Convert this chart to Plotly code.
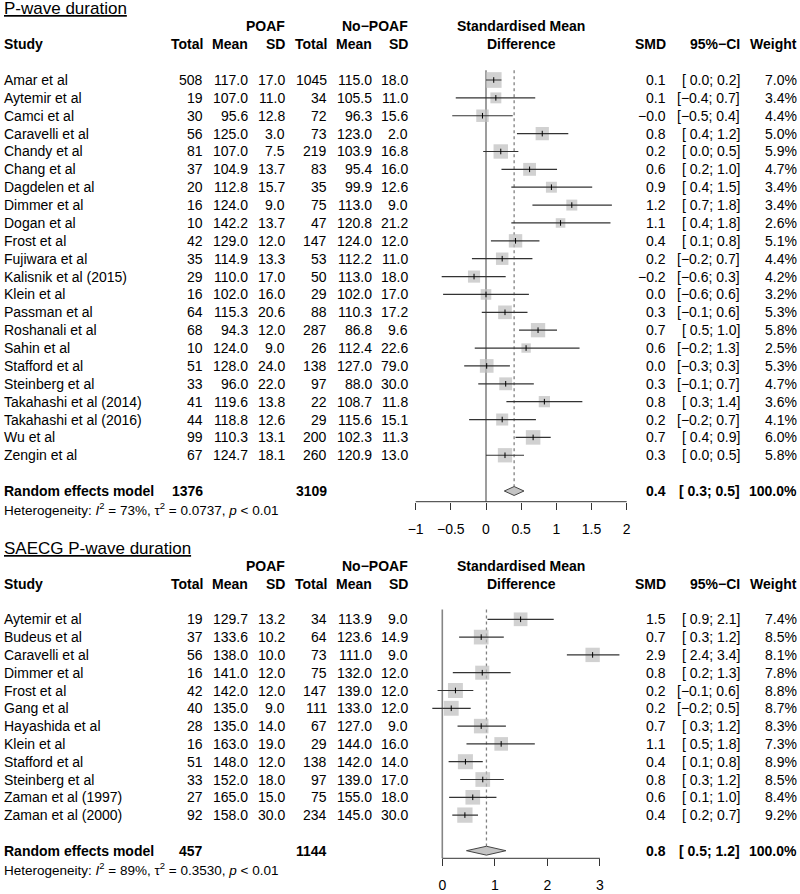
import math
import plotly.graph_objects as go

W, H = 800, 894
FONT = "Liberation Sans, Arial, Helvetica, sans-serif"
FS = 14
FS_HET = 13.5
FS_TITLE = 17

# ---------------- Panel 1: P-wave duration ----------------
p1_title = "P-wave duration"
p1_studies = ["Amar et al", "Aytemir et al", "Camci et al", "Caravelli et al", "Chandy et al",
              "Chang et al", "Dagdelen et al", "Dimmer et al", "Dogan et al", "Frost et al",
              "Fujiwara et al", "Kalisnik et al (2015)", "Klein et al", "Passman et al",
              "Roshanali et al", "Sahin et al", "Stafford et al", "Steinberg et al",
              "Takahashi et al (2014)", "Takahashi et al (2016)", "Wu et al", "Zengin et al"]
p1_e_total = [508, 19, 30, 56, 81, 37, 20, 16, 10, 42, 35, 29, 16, 64, 68, 10, 51, 33, 41, 44, 99, 67]
p1_e_mean = [117.0, 107.0, 95.6, 125.0, 107.0, 104.9, 112.8, 124.0, 142.2, 129.0, 114.9, 110.0,
             102.0, 115.3, 94.3, 124.0, 128.0, 96.0, 119.6, 118.8, 110.3, 124.7]
p1_e_sd = [17.0, 11.0, 12.8, 3.0, 7.5, 13.7, 15.7, 9.0, 13.7, 12.0, 13.3, 17.0, 16.0, 20.6, 12.0,
           9.0, 24.0, 22.0, 13.8, 12.6, 13.1, 18.1]
p1_c_total = [1045, 34, 72, 73, 219, 83, 35, 75, 47, 147, 53, 50, 29, 88, 287, 26, 138, 97, 22, 29, 200, 260]
p1_c_mean = [115.0, 105.5, 96.3, 123.0, 103.9, 95.4, 99.9, 113.0, 120.8, 124.0, 112.2, 113.0,
             102.0, 110.3, 86.8, 112.4, 127.0, 88.0, 108.7, 115.6, 102.3, 120.9]
p1_c_sd = [18.0, 11.0, 15.6, 2.0, 16.8, 16.0, 12.6, 9.0, 21.2, 12.0, 11.0, 18.0, 17.0, 17.2, 9.6,
           22.6, 79.0, 30.0, 11.8, 15.1, 11.3, 13.0]
# estimates as drawn
p1_smd = [0.11, 0.14, -0.05, 0.80, 0.21, 0.62, 0.93, 1.22, 1.06, 0.42, 0.23, -0.17, 0.00, 0.27,
          0.74, 0.57, 0.01, 0.28, 0.83, 0.23, 0.67, 0.27]
p1_lo = [0.00, -0.43, -0.48, 0.44, -0.04, 0.22, 0.36, 0.66, 0.36, 0.07, -0.20, -0.63, -0.61, -0.06,
         0.47, -0.16, -0.31, -0.11, 0.29, -0.24, 0.42, 0.00]
p1_hi = [0.22, 0.70, 0.38, 1.17, 0.46, 1.01, 1.51, 1.79, 1.77, 0.76, 0.66, 0.28, 0.61, 0.59, 1.01,
         1.33, 0.34, 0.68, 1.37, 0.71, 0.92, 0.54]
# printed (rounded) values
p1_smd_txt = [0.1, 0.1, -0.0, 0.8, 0.2, 0.6, 0.9, 1.2, 1.1, 0.4, 0.2, -0.2, 0.0, 0.3, 0.7, 0.6, 0.0,
              0.3, 0.8, 0.2, 0.7, 0.3]
p1_lo_txt = [0.0, -0.4, -0.5, 0.4, 0.0, 0.2, 0.4, 0.7, 0.4, 0.1, -0.2, -0.6, -0.6, -0.1, 0.5, -0.2,
             -0.3, -0.1, 0.3, -0.2, 0.4, 0.0]
p1_hi_txt = [0.2, 0.7, 0.4, 1.2, 0.5, 1.0, 1.5, 1.8, 1.8, 0.8, 0.7, 0.3, 0.6, 0.6, 1.0, 1.3, 0.3,
             0.7, 1.4, 0.7, 0.9, 0.5]
p1_weight = [7.0, 3.4, 4.4, 5.0, 5.9, 4.7, 3.4, 3.4, 2.6, 5.1, 4.4, 4.2, 3.2, 5.3, 5.8, 2.5, 5.3,
             4.7, 3.6, 4.1, 6.0, 5.8]
p1_re = [0.40, 0.26, 0.54]
p1_re_txt = [0.4, 0.3, 0.5]
p1_re_totals = [1376, 3109]
p1_het = ["73%", "0.0737", "0.01"]
p1_ticks = [-1, -0.5, 0, 0.5, 1, 1.5, 2]
p1_ticktext = ["\u22121", "\u22120.5", "0", "0.5", "1", "1.5", "2"]

# ---------------- Panel 2: SAECG P-wave duration ----------------
p2_title = "SAECG P-wave duration"
p2_studies = ["Aytemir et al", "Budeus et al", "Caravelli et al", "Dimmer et al", "Frost et al",
              "Gang et al", "Hayashida et al", "Klein et al", "Stafford et al", "Steinberg et al",
              "Zaman et al (1997)", "Zaman et al (2000)"]
p2_e_total = [19, 37, 56, 16, 42, 40, 28, 16, 51, 33, 27, 92]
p2_e_mean = [129.7, 133.6, 138.0, 141.0, 142.0, 135.0, 135.0, 163.0, 148.0, 152.0, 165.0, 158.0]
p2_e_sd = [13.2, 10.2, 10.0, 12.0, 12.0, 9.0, 14.0, 19.0, 12.0, 18.0, 15.0, 30.0]
p2_c_total = [34, 64, 73, 75, 147, 111, 67, 29, 138, 97, 75, 234]
p2_c_mean = [113.9, 123.6, 111.0, 132.0, 139.0, 133.0, 127.0, 144.0, 142.0, 139.0, 155.0, 145.0]
p2_c_sd = [9.0, 14.9, 9.0, 12.0, 12.0, 12.0, 9.0, 16.0, 14.0, 17.0, 18.0, 30.0]
p2_smd = [1.49, 0.74, 2.86, 0.76, 0.25, 0.17, 0.74, 1.12, 0.44, 0.77, 0.58, 0.43]
p2_lo = [0.86, 0.32, 2.37, 0.20, -0.09, -0.19, 0.29, 0.46, 0.12, 0.34, 0.13, 0.19]
p2_hi = [2.12, 1.17, 3.37, 1.30, 0.59, 0.54, 1.21, 1.76, 0.77, 1.17, 1.03, 0.68]
p2_smd_txt = [1.5, 0.7, 2.9, 0.8, 0.2, 0.2, 0.7, 1.1, 0.4, 0.8, 0.6, 0.4]
p2_lo_txt = [0.9, 0.3, 2.4, 0.2, -0.1, -0.2, 0.3, 0.5, 0.1, 0.3, 0.1, 0.2]
p2_hi_txt = [2.1, 1.2, 3.4, 1.3, 0.6, 0.5, 1.2, 1.8, 0.8, 1.2, 1.0, 0.7]
p2_weight = [7.4, 8.5, 8.1, 7.8, 8.8, 8.7, 8.3, 7.3, 8.9, 8.5, 8.4, 9.2]
p2_re = [0.84, 0.46, 1.21]
p2_re_txt = [0.8, 0.5, 1.2]
p2_re_totals = [457, 1144]
p2_het = ["89%", "0.3530", "0.01"]
p2_ticks = [0, 1, 2, 3]
p2_ticktext = ["0", "1", "2", "3"]

# ---------------- layout geometry (pixels) ----------------
COL = dict(e_total=203, e_mean=248, e_sd=285, c_total=327, c_mean=372, c_sd=408,
           smd=665.5, ci=739.5, w=797)
X_LEFT = 4
X_CENTER = 521

panels = [
    dict(title=p1_title, studies=p1_studies, et=p1_e_total, em=p1_e_mean, es=p1_e_sd,
         ct=p1_c_total, cm=p1_c_mean, cs=p1_c_sd, smd=p1_smd, lo=p1_lo, hi=p1_hi,
         smd_t=p1_smd_txt, lo_t=p1_lo_txt, hi_t=p1_hi_txt, w=p1_weight, re=p1_re, re_t=p1_re_txt,
         tot=p1_re_totals, het=p1_het, ticks=p1_ticks, ticktext=p1_ticktext,
         row0=80.0, step=17.87, top_px=0, bot_px=540, axis_px=501.7,
         zero_px=486.0, unit_px=70.33, xr=[-1.15, 2.15], axis_ext=[-1, 2], maxsq=15.7,
         xa="x", ya="y", xname="xaxis", yname="yaxis"),
    dict(title=p2_title, studies=p2_studies, et=p2_e_total, em=p2_e_mean, es=p2_e_sd,
         ct=p2_c_total, cm=p2_c_mean, cs=p2_c_sd, smd=p2_smd, lo=p2_lo, hi=p2_hi,
         smd_t=p2_smd_txt, lo_t=p2_lo_txt, hi_t=p2_hi_txt, w=p2_weight, re=p2_re, re_t=p2_re_txt,
         tot=p2_re_totals, het=p2_het, ticks=p2_ticks, ticktext=p2_ticktext,
         row0=619.3, step=17.8, top_px=540, bot_px=894, axis_px=858.3,
         zero_px=442.3, unit_px=52.56, xr=[-0.5, 3.6], axis_ext=[0, 3], maxsq=15.3,
         xa="x2", ya="y2", xname="xaxis2", yname="yaxis2"),
]


def fmt(v):
    return f"{v:.1f}".replace("-", "\u2212")


def fmt_ci(lo, hi):
    neg = math.copysign(1.0, lo) < 0
    return "[" + ("" if neg else " ") + fmt(lo) + "; " + fmt(hi) + "]"


fig = go.Figure()
annotations = []


def txt(text, xpx, row, yref, anchor="right", size=FS, bold=False, valign="middle"):
    if bold:
        text = f"<b>{text}</b>"
    annotations.append(dict(text=text, x=xpx / W, xref="paper", y=row, yref=yref,
                            xanchor=anchor, yanchor=valign, showarrow=False,
                            font=dict(family=FONT, size=size, color="black"),
                            borderpad=0, borderwidth=0))


layout_axes = {}
for P in panels:
    xa, ya = P["xa"], P["ya"]
    n = len(P["studies"])
    rows = list(range(n))
    re_row = n + 1
    het_row = n + 2
    axis_row = (P["axis_px"] - P["row0"]) / P["step"]
    top_row = -0.55
    dh = 0.25

    # axes geometry
    x0px = P["zero_px"] + P["xr"][0] * P["unit_px"]
    x1px = P["zero_px"] + P["xr"][1] * P["unit_px"]
    ytop = (P["top_px"] - P["row0"]) / P["step"]
    ybot = (P["bot_px"] - P["row0"]) / P["step"]
    layout_axes[P["xname"]] = dict(
        domain=[x0px / W, x1px / W], range=P["xr"], anchor="free",
        position=1 - P["axis_px"] / H, showline=False, showgrid=False, zeroline=False,
        ticks="outside", ticklen=7, tickwidth=1, tickcolor="#333333",
        tickvals=P["ticks"], ticktext=P["ticktext"], ticklabelstandoff=7,
        tickfont=dict(family=FONT, size=FS, color="black"), fixedrange=True)
    layout_axes[P["yname"]] = dict(
        domain=[1 - P["bot_px"] / H, 1 - P["top_px"] / H], range=[ybot, ytop],
        visible=False, anchor=xa, fixedrange=True)

    # reference lines
    fig.add_trace(go.Scatter(x=[0, 0], y=[top_row, axis_row], mode="lines",
                             line=dict(color="#858585", width=1.6), xaxis=xa, yaxis=ya,
                             hoverinfo="skip"))
    fig.add_trace(go.Scatter(x=[P["re"][0], P["re"][0]], y=[top_row, re_row - dh], mode="lines",
                             line=dict(color="#808080", width=1.3, dash="dot"), xaxis=xa, yaxis=ya,
                             hoverinfo="skip"))
    # squares
    wmax = max(P["w"])
    sizes = [P["maxsq"] * math.sqrt(w / wmax) for w in P["w"]]
    fig.add_trace(go.Scatter(x=P["smd"], y=rows, mode="markers",
                             marker=dict(symbol="square", size=sizes, color="#BEBEBE",
                                         line=dict(width=0)),
                             xaxis=xa, yaxis=ya, cliponaxis=False, hoverinfo="skip"))
    # CI lines
    cx, cy = [], []
    for r, lo, hi in zip(rows, P["lo"], P["hi"]):
        cx += [lo, hi, None]
        cy += [r, r, None]
    fig.add_trace(go.Scatter(x=cx, y=cy, mode="lines", line=dict(color="#333333", width=1.2),
                             xaxis=xa, yaxis=ya, hoverinfo="skip"))
    # point ticks
    fig.add_trace(go.Scatter(x=P["smd"], y=rows, mode="markers",
                             marker=dict(symbol="line-ns-open", size=4, color="black",
                                         line=dict(color="black", width=1)),
                             xaxis=xa, yaxis=ya, cliponaxis=False, hoverinfo="skip"))
    # diamond
    est, lo, hi = P["re"]
    fig.add_trace(go.Scatter(x=[lo, est, hi, est, lo], y=[re_row, re_row - dh, re_row, re_row + dh, re_row],
                             mode="lines", fill="toself", fillcolor="#C4C4C4",
                             line=dict(color="#444444", width=1), xaxis=xa, yaxis=ya,
                             hoverinfo="skip"))
    # axis line
    fig.add_trace(go.Scatter(x=P["axis_ext"], y=[axis_row, axis_row], mode="lines",
                             line=dict(color="#333333", width=1), xaxis=xa, yaxis=ya,
                             hoverinfo="skip"))

    # ---- text ----
    txt(f"<u>{P['title']}</u>", X_LEFT, -4, ya, anchor="left", size=FS_TITLE)
    txt("POAF", COL["e_sd"], -3, ya, bold=True)
    txt("No\u2212POAF", COL["c_sd"], -3, ya, bold=True)
    txt("Standardised Mean", X_CENTER, -3, ya, anchor="center", bold=True)
    txt("Study", X_LEFT, -2, ya, anchor="left", bold=True)
    for key, lab in [("e_total", "Total"), ("e_mean", "Mean"), ("e_sd", "SD"),
                     ("c_total", "Total"), ("c_mean", "Mean"), ("c_sd", "SD"),
                     ("smd", "SMD"), ("ci", "95%\u2212CI"), ("w", "Weight")]:
        txt(lab, COL[key], -2, ya, bold=True)
    txt("Difference", X_CENTER, -2, ya, anchor="center", bold=True)

    for i in rows:
        txt(P["studies"][i], X_LEFT, i, ya, anchor="left")
        txt(str(P["et"][i]), COL["e_total"], i, ya)
        txt(f"{P['em'][i]:.1f}", COL["e_mean"], i, ya)
        txt(f"{P['es'][i]:.1f}", COL["e_sd"], i, ya)
        txt(str(P["ct"][i]), COL["c_total"], i, ya)
        txt(f"{P['cm'][i]:.1f}", COL["c_mean"], i, ya)
        txt(f"{P['cs'][i]:.1f}", COL["c_sd"], i, ya)
        txt(fmt(P["smd_t"][i]), COL["smd"], i, ya)
        txt(fmt_ci(P["lo_t"][i], P["hi_t"][i]), COL["ci"], i, ya)
        txt(f"{P['w'][i]:.1f}%", COL["w"], i, ya)

    txt("Random effects model", X_LEFT, re_row, ya, anchor="left", bold=True)
    txt(str(P["tot"][0]), COL["e_total"], re_row, ya, bold=True)
    txt(str(P["tot"][1]), COL["c_total"], re_row, ya, bold=True)
    txt(fmt(P["re_t"][0]), COL["smd"], re_row, ya, bold=True)
    txt(fmt_ci(P["re_t"][1], P["re_t"][2]), COL["ci"], re_row, ya, bold=True)
    txt("100.0%", COL["w"], re_row, ya, bold=True)
    i2, tau2, pv = P["het"]
    txt(f"Heterogeneity: <i>I</i><sup>2</sup> = {i2}, \u03c4<sup>2</sup> = {tau2}, <i>p</i> &lt; {pv}",
        X_LEFT, het_row, ya, anchor="left", size=FS_HET)

fig.update_layout(
    width=W, height=H, margin=dict(l=0, r=0, t=0, b=0),
    paper_bgcolor="white", plot_bgcolor="white", showlegend=False,
    font=dict(family=FONT, size=FS, color="black"),
    annotations=annotations, hovermode=False,
    **layout_axes,
)

fig.write_html("out.html", config={"displayModeBar": False},
               post_script="document.body.style.margin='0';document.body.style.padding='0';"
                           "document.body.style.overflow='hidden';")
